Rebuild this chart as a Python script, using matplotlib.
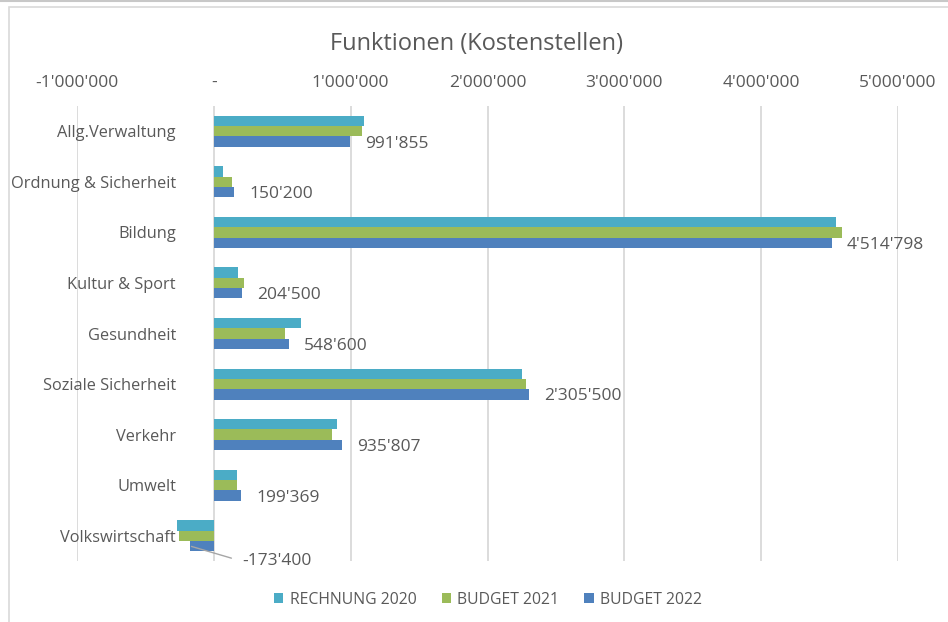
import numpy as np
import matplotlib
matplotlib.use("Agg")
import matplotlib.pyplot as plt
from matplotlib.ticker import FuncFormatter
from matplotlib.patches import Rectangle

# data
categories = ["Allg.Verwaltung", "Ordnung & Sicherheit", "Bildung", "Kultur & Sport",
              "Gesundheit", "Soziale Sicherheit", "Verkehr", "Umwelt", "Volkswirtschaft"]
rechnung_2020 = [1097000, 68000, 4550000, 180000, 636000, 2253000, 897000, 166000, -266000]
budget_2021 = [1080000, 134000, 4594000, 222000, 520000, 2285000, 865000, 166000, -256000]
budget_2022 = [991855, 150200, 4514798, 204500, 548600, 2305500, 935807, 199369, -173400]
series_names = ["RECHNUNG 2020", "BUDGET 2021", "BUDGET 2022"]
colors = ["#4BACC6", "#9BBB59", "#4F81BD"]
x_ticks = [-1000000, 0, 1000000, 2000000, 3000000, 4000000, 5000000]

plt.rcParams['font.family'] = ['Open Sans', 'DejaVu Sans']
text_col = "#595959"

fig = plt.figure(figsize=(9.48, 6.22), dpi=100)
W, H = 948, 622

# light chart-area frame like the screenshot
fig.patches.append(Rectangle((9 / W, -0.1), 1.2, 1 - 7 / H + 0.1, transform=fig.transFigure,
                             fill=False, edgecolor="#D9D9D9", lw=1.2))
fig.lines.append(plt.Line2D([0, 1], [1 - 1 / H, 1 - 1 / H], transform=fig.transFigure,
                            color="#C8C8C8", lw=1.5))

ax = fig.add_axes([77 / W, 1 - 561 / H, 821 / W, 455 / H])

y = np.arange(len(categories))
h = 0.204
for i, (vals, name, c) in enumerate(zip([rechnung_2020, budget_2021, budget_2022], series_names, colors)):
    ax.barh(y + (i - 1) * h, vals, height=h, color=c, label=name, zorder=3)

ax.set_xlim(-1000000, 5000000)
ax.set_ylim(len(categories) - 0.5, -0.5)
ax.set_xticks(x_ticks)
ax.xaxis.set_major_formatter(FuncFormatter(
    lambda v, p: "-" if v == 0 else f"{int(v):,}".replace(",", "'")))
ax.xaxis.tick_top()
ax.tick_params(axis="x", length=0, pad=11, labelsize=12.5, labelcolor=text_col)
ax.set_yticks(y)
ax.set_yticklabels(categories)
ax.tick_params(axis="y", length=0, pad=-71.3, labelsize=11.8, labelcolor=text_col)
for lab in ax.get_yticklabels():
    lab.set_zorder(4)

ax.grid(axis="x", color="#D9D9D9", lw=1.3, zorder=0)
ax.grid(axis="y", visible=False)
for s in ax.spines.values():
    s.set_visible(False)

# data labels for BUDGET 2022
for yi, v in zip(y, budget_2022):
    txt = f"{v:,}".replace(",", "'")
    if v >= 0:
        ax.annotate(txt, xy=(v, yi + h), xytext=(11, -1.5), textcoords="offset points",
                    ha="left", va="center", fontsize=12.5, color=text_col)
    else:
        ax.annotate(txt, xy=(v, yi + h), xytext=(37.5, -11), textcoords="offset points",
                    ha="left", va="center", fontsize=12.5, color=text_col,
                    arrowprops=dict(arrowstyle="-", color="#A6A6A6", lw=1,
                                    shrinkA=6, shrinkB=1, relpos=(0, 0.5)))

fig.text(476 / W, 1 - 44 / H, "Funktionen (Kostenstellen)", ha="center", va="center",
         fontsize=17, color=text_col)

fig.legend(loc="center", bbox_to_anchor=(488 / W, 1 - 600 / H), ncol=3, frameon=False,
           handlelength=0.6, handleheight=0.6, handletextpad=0.4, columnspacing=1.6,
           fontsize=11.3, labelcolor=text_col)

fig.savefig("out.png", dpi=100)
